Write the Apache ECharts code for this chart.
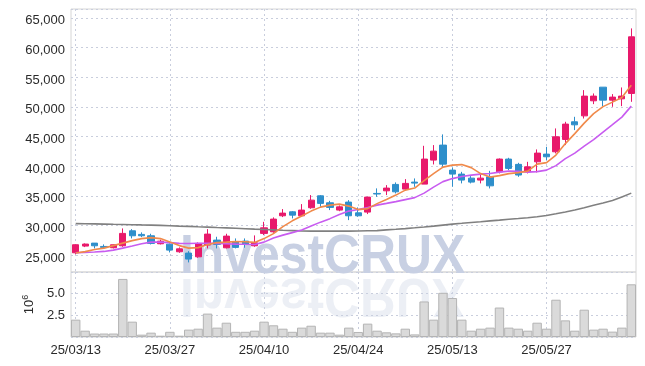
<!DOCTYPE html>
<html>
<head>
<meta charset="utf-8">
<script src="https://cdn.jsdelivr.net/npm/echarts@6/dist/echarts.min.js"></script>
<style>
  html, body { margin: 0; padding: 0; background: #fff; }
  #chart { width: 645px; height: 366px; }
</style>
</head>
<body>
<div id="chart"></div>
<script>
// trading days (yy/mm/dd)
const dates = ['25/03/13','25/03/14','25/03/17','25/03/18','25/03/19','25/03/20','25/03/21','25/03/24','25/03/25','25/03/26',
  '25/03/27','25/03/28','25/03/31','25/04/01','25/04/02','25/04/03','25/04/04','25/04/07','25/04/08','25/04/09',
  '25/04/10','25/04/11','25/04/14','25/04/15','25/04/16','25/04/17','25/04/18','25/04/21','25/04/22','25/04/23',
  '25/04/24','25/04/25','25/04/28','25/04/29','25/04/30','25/05/02','25/05/07','25/05/08','25/05/09','25/05/12',
  '25/05/13','25/05/14','25/05/15','25/05/16','25/05/19','25/05/20','25/05/21','25/05/22','25/05/23','25/05/26',
  '25/05/27','25/05/28','25/05/29','25/05/30','25/06/02','25/06/04','25/06/05','25/06/09','25/06/10','25/06/11'];

const opens  = [25390,26520,27020,26460,26240,26570,29100,28490,28260,26910,
  26850,25560,25340,24710,26690,27530,26230,27240,27360,26570,
  28660,28930,31630,32300,31630,32980,35000,33820,32590,33940,
  32130,32250,35400,35840,36920,36130,37310,36970,41020,43550,
  39330,38660,37980,37650,38200,39040,41190,40300,39040,40730,
  42030,42420,44500,47480,48480,51020,53320,51130,51350,52260];
const closes = [26750,26860,26570,26300,26740,28660,28260,28260,26970,27350,
  25840,26060,24330,26970,28540,26800,28200,26300,26800,27070,
  29600,31070,32080,31740,32590,34270,33720,33040,33140,31630,
  31630,34780,35300,36300,35670,37090,37140,41190,42530,40340,
  38660,37650,37310,37980,36680,41190,39620,38500,39890,42200,
  41580,44950,47090,46970,51810,51810,51130,51640,51810,61810];
const lows   = [25150,26350,26130,26130,26130,26400,27810,28040,26800,26800,
  25450,25390,23770,24550,26130,26130,26130,26130,26240,26400,
  28370,28760,31410,31190,31460,32810,33140,32590,32400,30900,
  31460,31920,34830,35120,35400,35960,36520,36970,40290,39890,
  36520,37090,37090,37090,36240,38770,39330,38200,38770,38940,
  41020,42150,43550,46080,48030,50460,50120,50010,50120,50850];
const highs  = [26800,26970,27020,26800,26800,29500,29380,28830,28600,27600,
  26970,26300,25670,27140,29380,28090,28600,27810,27810,28320,
  30610,31360,32760,32420,33600,35120,35120,34150,33370,34270,
  33040,34830,36250,36800,37260,37810,37930,43430,43550,45350,
  39790,39040,38320,38540,39210,41300,41410,40560,40730,42820,
  43260,46360,47480,48320,52820,52260,53320,52150,53270,63230];

// moving averages
const maShort = [25340,25590,25930,26180,26600,27020,27440,27780,27950,27780,
  27190,26600,26180,26260,26770,27110,27190,27280,27240,27140,
  27780,28620,29800,30780,31580,32420,33090,33430,33600,33260,
  32670,32840,33680,34360,35120,35960,36300,37560,38740,39840,
  40170,40260,39750,38740,38150,38400,38740,38910,39160,40340,
  40600,41860,43800,45490,47260,48860,50040,50800,51560,53660];
const maMid = [25390,25460,25510,25620,25840,26180,26520,26910,27190,27190,
  27110,26970,26960,26990,27010,26970,26910,26850,26820,26800,
  27190,27870,28370,28790,29220,29890,30560,31150,31830,32420,
  32700,33040,33430,33720,34020,34360,34690,35450,36460,37390,
  37900,38240,38490,38660,38770,38990,39160,39130,38990,39080,
  39330,40090,41270,42200,43380,44470,45740,47000,48270,50120];
const maLong = [30310,30290,30260,30230,30190,30160,30130,30090,30060,30010,
  29960,29890,29840,29770,29720,29650,29590,29520,29450,29380,
  29320,29250,29180,29130,29080,29050,29050,29050,29050,29050,
  29060,29100,29130,29250,29350,29470,29600,29740,29890,30060,
  30230,30360,30500,30630,30770,30900,31040,31170,31310,31470,
  31690,31960,32280,32620,32990,33400,33800,34220,34810,35450];

// volume in millions of shares
const volumes = [2.0,0.73,0.4,0.4,0.4,6.7,1.77,0.27,0.5,0.15,
  0.6,0.15,0.85,0.96,2.7,1.08,1.65,0.6,0.6,0.73,
  1.77,1.35,0.96,0.6,1.08,1.3,0.5,0.5,0.27,1.08,
  0.58,1.54,0.73,0.54,0.42,0.96,0.3,4.1,2.0,5.1,
  4.5,2.0,0.73,0.96,1.08,3.4,1.08,0.96,0.73,1.65,
  0.96,4.3,1.92,0.73,3.15,0.85,0.96,0.62,1.08,6.08];

const upColor = '#e8196b';
const downColor = '#2e8fcb';
const gridLine = { show: true, lineStyle: { color: '#c9cedd', type: [2, 3], width: 1 } };
const labelFont = { fontFamily: 'Liberation Sans', fontSize: 13, color: '#2a2a2a' };
const wmFont = 'bold 56px "Liberation Sans", sans-serif';

const candles = dates.map((d, i) => [opens[i], closes[i], lows[i], highs[i]]);

const chart = echarts.init(document.getElementById('chart'));
chart.setOption({
  animation: false,
  backgroundColor: '#fff',
  grid: [
    { left: 71, right: 9, top: 9, height: 263, show: true, borderColor: '#d6d6d6', borderWidth: 1 },
    { left: 71, right: 9, top: 272, height: 65, show: true, borderColor: '#d6d6d6', borderWidth: 1 }
  ],
  graphic: [
    { type: 'text', x: 180, y: 286, scaleX: 0.89, z: 1, silent: true,
      style: { text: 'InvestCRUX', font: wmFont, fill: '#c8d0e3', verticalAlign: 'bottom' } },
    { type: 'text', x: 180, y: 266, scaleX: 0.89, scaleY: -1, z: 1, silent: true,
      style: { text: 'InvestCRUX', font: wmFont, fill: '#c8d0e3', opacity: 0.35, verticalAlign: 'bottom' } }
  ],
  xAxis: [
    { type: 'category', gridIndex: 0, data: dates, boundaryGap: true,
      axisLine: { show: false }, axisTick: { show: false }, axisLabel: { show: false },
      splitLine: Object.assign({ interval: 9, alignWithLabel: true }, gridLine) },
    { type: 'category', gridIndex: 1, data: dates, boundaryGap: true,
      axisLine: { show: false }, axisTick: { show: false, alignWithLabel: true },
      axisLabel: Object.assign({ interval: 9, margin: 7 }, labelFont),
      splitLine: Object.assign({ interval: 9, alignWithLabel: true }, gridLine) }
  ],
  yAxis: [
    { type: 'value', gridIndex: 0, min: 22150, max: 66500, splitNumber: 9,
      axisLine: { show: false }, axisTick: { show: false },
      axisLabel: Object.assign({ margin: 6, verticalAlign: 'top', lineHeight: 6, showMinLabel: false, showMaxLabel: false,
        formatter: v => v.toLocaleString('en-US') }, labelFont),
      splitLine: gridLine },
    { type: 'value', gridIndex: 1, min: 0, max: 7.5, interval: 2.5,
      name: '10{s|6}', nameLocation: 'middle', nameRotate: 90, nameGap: 25,
      nameTextStyle: { fontFamily: 'Liberation Sans', fontSize: 13, color: '#2a2a2a',
        rich: { s: { fontSize: 9, verticalAlign: 'top', padding: [0, 0, 8, 0] } } },
      axisLine: { show: false }, axisTick: { show: false },
      axisLabel: Object.assign({ margin: 6, showMinLabel: false, showMaxLabel: false,
        formatter: v => v.toFixed(1) }, labelFont),
      splitLine: gridLine }
  ],
  series: [
    { type: 'candlestick', xAxisIndex: 0, yAxisIndex: 0, data: candles, barWidth: '70%', z: 3,
      itemStyle: { color: upColor, color0: downColor, borderColor: upColor, borderColor0: downColor, borderWidth: 1 } },
    { type: 'line', xAxisIndex: 0, yAxisIndex: 0, data: maLong, symbol: 'none', z: 4,
      lineStyle: { color: '#808080', width: 1.6 } },
    { type: 'line', xAxisIndex: 0, yAxisIndex: 0, data: maMid, symbol: 'none', z: 4,
      lineStyle: { color: '#c85cf0', width: 1.6 } },
    { type: 'line', xAxisIndex: 0, yAxisIndex: 0, data: maShort, symbol: 'none', z: 4,
      lineStyle: { color: '#f08a4b', width: 1.6 } },
    { type: 'bar', xAxisIndex: 1, yAxisIndex: 1, data: volumes, barWidth: '100%', z: 3,
      itemStyle: { color: '#dadada', borderColor: '#b4b4b4', borderWidth: 1 } }
  ]
});
</script>
</body>
</html>
